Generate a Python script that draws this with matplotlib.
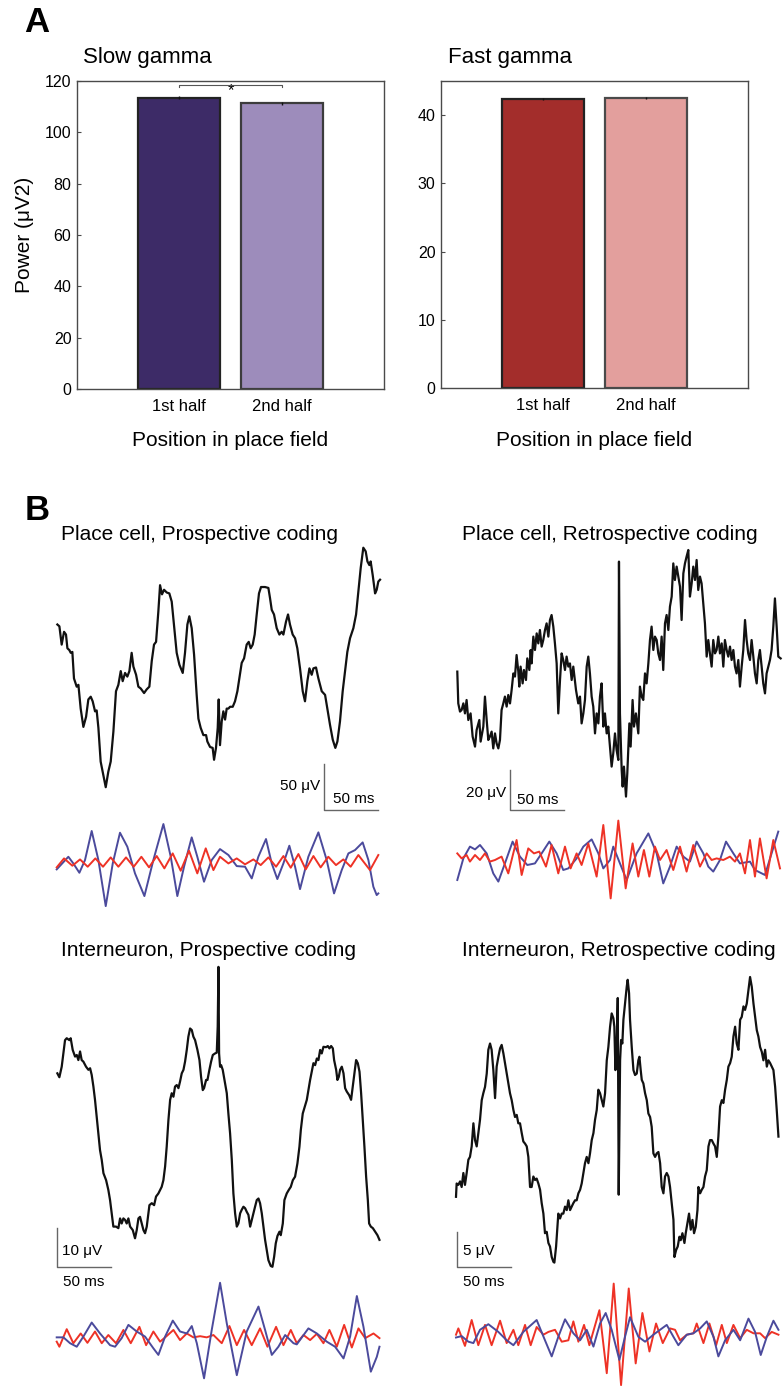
import numpy as np
import matplotlib
matplotlib.use("Agg")
import matplotlib.pyplot as plt

plt.rcParams['font.family'] = ['Liberation Sans', 'DejaVu Sans']

# ---------------- Panel A data ----------------
categories = ['1st half', '2nd half']
slow_power = [113.5, 111.3]
slow_err = [0.6, 0.5]
fast_power = [42.4, 42.45]
fast_err = [0.15, 0.15]
slow_colors = ['#3d2b67', '#9d8cbb']
fast_colors = ['#a32d2b', '#e39f9d']
slow_ticks = [0, 20, 40, 60, 80, 100, 120]
fast_ticks = [0, 10, 20, 30, 40]

# ---------------- Panel B data (time in ms, voltage in uV) ----------------
b1_raw = [(0.6,192),(2.5,190),(4.6,170),(6.8,184),(8.6,181),(9.9,166),(11.7,164),(13.0,161),(14.5,162),(16.0,133),(18.5,124),(20.1,126),(22.2,100),(24.7,80),(27.2,91),(29.3,110),(31.5,113),(33.3,108),(35.5,97),(37.0,98),(38.6,79),(40.7,42),(43.2,27),(45.4,14),(47.8,31),(50.0,42),(52.5,75),(54.9,119),(57.1,126),(59.3,141),(61.1,130),(63.3,139),(65.4,135),(67.3,141),(69.4,161),(71.0,146),(73.5,137),(75.6,124),(77.8,122),(80.9,117),(83.3,121),(85.8,124),(88.0,152),(90.1,170),(92.0,173),(94.1,206),(95.7,235),(97.5,225),(99.4,230),(101.9,227),(104.3,226),(106.5,217),(108.0,199),(109.6,181),(111.1,161),(113.6,148),(116.7,139),(118.8,161),(121.0,192),(122.8,201),(125.0,188),(127.2,159),(129.6,115),(131.2,89),(133.3,79),(135.8,71),(138.3,71),(139.5,64),(142.0,58),(144.4,57),(145.7,44),(147.5,57),(149.1,79),(150.0,110),(151.2,60),(152.8,86),(154.3,97),(155.9,88),(157.4,100),(159.0,100),(160.5,102),(163.0,102),(165.1,108),(167.3,119),(169.1,133),(171.3,150),(173.5,155),(175.9,170),(177.8,173),(179.6,166),(181.5,170),(183.3,181),(185.2,203),(187.3,226),(189.2,233),(192.9,233),(196.0,232),(197.5,221),(199.1,208),(201.2,203),(203.7,188),(206.2,181),(208.3,184),(209.9,181),(212.3,195),(214.2,203),(216.0,192),(218.5,181),(220.7,177),(222.8,166),(225.3,144),(227.8,119),(229.9,108),(232.1,130),(234.0,144),(236.1,137),(237.7,144),(240.1,145),(242.3,133),(245.4,119),(248.5,115),(250.6,100),(253.1,82),(255.6,66),(258.0,57),(259.9,64),(262.3,86),(264.8,119),(267.0,141),(269.1,162),(271.6,177),(274.7,188),(277.2,203),(279.3,228),(281.5,254),(283.9,276),(286.1,272),(287.7,261),(289.5,257),(290.7,261),(292.6,246),(294.8,226),(296.3,230),(297.8,239),(299.4,241)]
b1_slow = [(0,-75.9),(10.8,-62.1),(15.4,-69.4),(21.0,-79.6),(26.2,-65.7),(32.4,-33.9),(38.6,-65.7),(45.4,-116.1),(51.9,-69.4),(58.6,-35.8),(65.4,-51.1),(72.5,-80.3),(81.2,-105.1),(89.5,-65.7),(98.8,-26.3),(105.6,-62.1),(111.7,-105.1),(117.9,-73.0),(125.0,-40.9),(130.2,-62.1),(136.4,-89.4),(143.5,-65.7),(151.2,-53.7),(159.0,-60.2),(166.7,-72.3),(174.4,-73.0),(180.6,-85.8),(186.7,-62.1),(193.8,-42.7),(199.1,-69.4),(204.3,-86.5),(209.9,-69.4),(215.4,-50.0),(220.7,-73.0),(225.3,-97.5),(233.0,-62.1),(242.3,-35.4),(250.0,-65.7),(256.8,-102.2),(263.9,-76.7),(270.1,-58.4),(276.2,-54.8),(283.3,-46.4),(288.6,-65.7),(293.2,-94.9),(296.3,-104.0),(297.8,-102.2)]
b1_fast = [(0,-73.7),(6.8,-63.9),(14.5,-71.9),(21.6,-65.0),(28.7,-73.0),(35.8,-63.9),(42.9,-73.0),(50.0,-62.8),(57.1,-73.0),(64.2,-62.8),(71.3,-73.0),(78.4,-62.1),(85.5,-73.7),(92.6,-61.3),(99.7,-74.8),(107.4,-58.4),(114.8,-77.4),(122.5,-55.5),(130.2,-80.3),(138.0,-52.9),(145.1,-76.7),(151.2,-62.1),(159.0,-69.4),(166.7,-63.9),(174.4,-70.4),(182.1,-65.0),(188.9,-71.2),(196.0,-62.8),(203.1,-73.0),(209.9,-61.3),(216.7,-74.1),(223.8,-59.1),(230.6,-75.9),(237.7,-61.3),(244.4,-73.7),(251.5,-62.1),(258.6,-71.2),(265.4,-65.0),(272.2,-73.0),(279.3,-60.2),(290.1,-76.7),(297.8,-60.2)]

b2_raw = [(0,64.2),(0.9,48.3),(2.5,44.2),(4.0,45),(5.6,48.3),(7.1,43.3),(8.6,50),(10.2,40),(12.3,43.3),(14.2,31.7),(16.4,26.7),(17.9,35),(20.4,40),(21.6,29.2),(24.1,36.7),(25.6,51.7),(27.2,40),(28.7,30),(30.2,31.7),(31.8,34.2),(33.3,25.8),(34.9,33.3),(36.4,28.3),(38.0,25.8),(39.5,30),(41.0,45),(42.6,48.3),(44.1,51.7),(45.7,46.7),(47.2,52.5),(48.8,48.3),(50.3,55),(51.9,63.3),(53.4,61.7),(54.9,72.5),(56.5,64.2),(57.4,56.7),(58.6,66.7),(60.5,58.3),(61.7,65),(63.6,60),(64.8,70.8),(66.7,65),(67.9,75),(68.8,68.3),(70.4,81.7),(71.9,75),(73.5,83.3),(75.0,78.3),(76.5,85),(78.1,76.7),(79.6,80),(81.2,85),(82.7,88.3),(84.3,81.7),(85.8,90),(87.3,92.5),(88.9,86.7),(90.4,78.3),(92.0,68.3),(93.5,43.3),(95.1,60),(96.6,73.3),(98.1,70),(99.7,65),(101.2,71.7),(102.8,66.7),(104.3,68.3),(105.9,60),(107.4,66.7),(109.9,55),(112.0,48.3),(113.6,51.7),(115.1,38.3),(116.7,43.3),(118.2,50),(119.8,66.7),(121.3,71.7),(122.8,63.3),(124.4,51.7),(125.9,46.7),(127.5,33.3),(129.0,43.3),(130.6,38.3),(132.1,51.7),(133.6,58.3),(135.2,36.7),(136.7,43.3),(138.3,33.3),(139.8,36.7),(141.4,26.7),(142.9,16.7),(144.4,23.3),(146.0,33.3),(147.5,25),(149.1,20),(149.7,119.2),(150.6,43.3),(152.2,15),(153.1,6.7),(154.3,16.7),(156.2,1.7),(157.4,13.3),(159.3,38.3),(160.5,26.7),(162.3,50),(163.6,36.7),(165.4,43.3),(167.6,33.3),(169.1,56.7),(170.7,51.7),(172.2,50),(173.8,63.3),(175.3,58.3),(176.9,68.3),(178.4,80),(179.9,86.7),(181.5,75),(183.0,81.7),(184.6,80),(186.1,73.3),(187.7,70),(189.2,81.7),(190.7,65),(192.3,88.3),(193.8,92.5),(195.4,85),(196.9,96.7),(198.5,101.7),(200.0,118.3),(201.5,110),(203.1,116.7),(204.6,111.7),(206.2,106.7),(207.7,90),(209.3,113.3),(210.8,118.3),(212.3,121.7),(213.9,125),(215.4,101.7),(217.0,108.3),(218.5,116.7),(220.1,110),(221.6,120),(223.1,105),(224.7,111.7),(226.2,108.3),(227.8,98.3),(229.3,88.3),(230.9,71.7),(232.4,80),(233.9,73.3),(235.5,66.7),(237.0,80),(238.6,73.3),(240.1,75),(241.7,81.7),(243.2,73.3),(244.8,78.3),(246.3,66.7),(247.8,80),(249.4,75),(250.9,71.7),(252.5,76.7),(254.0,70),(255.6,75),(257.1,66.7),(258.6,63.3),(260.2,70),(261.7,56.7),(263.3,66.7),(264.8,75),(266.4,90),(267.9,80),(269.4,73.3),(271.0,70),(272.5,80),(274.1,71.7),(275.6,63.3),(277.2,58.3),(278.7,70),(280.2,75),(281.8,66.7),(283.3,58.3),(284.9,53.3),(286.4,63.3),(288.0,66.7),(289.5,70),(291.0,75),(292.6,86.7),(294.1,100.8),(295.7,86.7),(297.2,71.7),(299.4,70.8)]
b2_slow = [(0,-40),(5.6,-29.2),(11.7,-23.3),(16.4,-24.7),(21.0,-22.5),(27.2,-26.7),(33.3,-36.7),(38.0,-40.8),(44.1,-31.7),(51.2,-20.8),(58.0,-28.3),(64.8,-32.5),(71.9,-31.7),(78.1,-26.7),(85.2,-20.8),(92.0,-26.7),(98.1,-35),(102.8,-34.2),(110.5,-29.2),(116.7,-23.3),(124.4,-19.7),(130.6,-26.7),(135.2,-34.2),(141.4,-30),(144.4,-23.3),(150.6,-31.7),(156.8,-40),(166.0,-26.7),(176.9,-16.7),(184.6,-26.7),(190.7,-41.7),(196.9,-33.3),(203.1,-23.3),(209.3,-28.3),(215.4,-30.8),(221.6,-20.8),(227.8,-26.7),(232.4,-33.3),(237.0,-35.8),(243.2,-30),(248.8,-20.8),(255.6,-26.7),(261.7,-31.7),(271.0,-30.8),(275.6,-35),(284.9,-37.5),(291.0,-26.7),(297.2,-15.8)]
b2_fast = [(0,-26.7),(4.0,-29.2),(8.6,-27.5),(11.7,-30.8),(16.4,-27.5),(21.0,-30),(25.6,-26.7),(30.2,-30.8),(34.9,-30),(41.0,-28.3),(47.2,-36.7),(54.9,-20),(59.6,-37.5),(65.7,-24.2),(71.0,-26.7),(75.9,-25.8),(82.1,-33.3),(87.3,-22.5),(93.5,-36.7),(99.7,-23.3),(104.9,-34.2),(110.5,-26.7),(115.1,-32.5),(121.3,-21.7),(129.0,-38.3),(135.2,-12.5),(142.0,-49.2),(149.1,-10.3),(155.9,-44.2),(162.3,-21.7),(167.6,-38.3),(172.8,-25),(177.8,-38.3),(183.0,-23.3),(187.7,-30),(193.8,-25),(200.0,-35),(206.2,-23.3),(212.3,-35.8),(218.5,-22.5),(224.7,-33.3),(230.9,-26.7),(235.5,-30),(240.1,-29.2),(246.3,-30),(252.5,-28.3),(257.1,-30.8),(261.7,-26.7),(266.4,-36.7),(271.0,-20),(275.6,-38.3),(280.2,-19.2),(286.4,-39.2),(292.6,-20),(298.8,-34.2)]

b3_raw = [(0.6,45.3),(2.5,44.3),(4.7,47.0),(6.3,50.4),(7.8,53.8),(9.4,54.3),(11.9,53.8),(13.1,54.3),(15.0,51.3),(17.2,49.6),(18.8,50.0),(20.3,48.7),(21.9,50.9),(23.4,48.7),(25.0,48.3),(27.5,47.0),(29.7,46.2),(31.3,46.6),(32.8,44.9),(34.4,41.9),(35.9,38.5),(37.5,34.2),(39.1,29.9),(40.6,25.6),(42.2,23.1),(43.8,19.7),(46.3,17.9),(48.4,15.4),(50.0,12.8),(51.6,9.4),(53.1,6.0),(55.6,6.0),(57.8,5.6),(59.4,8.1),(60.9,6.8),(62.5,8.1),(64.1,7.7),(65.6,6.8),(67.2,8.1),(68.8,6.0),(71.3,5.1),(73.4,3.0),(75.0,5.1),(76.6,8.1),(78.1,8.5),(79.7,6.8),(81.3,5.1),(82.8,4.3),(84.4,6.0),(86.9,11.5),(89.1,12.0),(91.3,11.5),(93.1,13.7),(95.3,14.5),(96.9,15.4),(98.4,16.2),(100.0,17.9),(101.6,21.4),(103.1,26.5),(104.7,33.3),(106.3,38.5),(107.8,40.2),(109.4,39.3),(110.9,41.9),(112.5,42.3),(114.1,41.5),(115.6,43.2),(117.2,45.3),(118.8,46.2),(120.3,48.3),(121.9,51.3),(123.4,54.7),(125.0,56.8),(126.6,56.4),(128.1,54.7),(129.7,53.8),(131.9,51.3),(133.8,48.7),(135.3,44.4),(136.9,41.0),(138.1,41.5),(140.0,43.6),(141.3,43.6),(143.1,46.2),(144.7,48.3),(146.3,50.0),(148.4,50.4),(150.0,50.6),(150.9,57.3),(151.6,72.6),(152.2,50.4),(153.1,47.0),(154.1,47.4),(155.6,46.2),(157.8,42.7),(159.4,40.2),(160.9,35.0),(162.5,29.9),(164.1,23.1),(165.6,14.5),(167.2,9.4),(168.8,6.0),(170.3,6.8),(171.9,9.4),(173.4,10.3),(175.0,11.1),(176.6,10.7),(178.1,9.8),(179.7,9.0),(181.3,6.0),(182.8,7.7),(184.4,9.4),(185.9,11.1),(187.5,12.8),(189.1,13.2),(190.6,12.0),(192.2,9.4),(193.8,6.0),(195.3,2.6),(196.9,0),(198.4,-2.6),(200.6,-4.1),(202.2,-4.3),(203.8,-1.7),(205.3,1.7),(206.9,3.6),(208.8,4.7),(210.0,3.8),(211.9,6.8),(213.4,12.8),(215.6,14.5),(217.5,15.4),(219.4,16.2),(221.3,17.9),(223.4,18.8),(225.6,22.2),(227.5,26.5),(228.8,30.8),(230.6,35.0),(232.5,36.8),(234.4,38.5),(235.9,41.0),(237.5,43.6),(239.4,46.2),(240.6,47.9),(242.2,47.4),(243.8,49.1),(245.3,48.7),(246.9,51.3),(248.4,50.4),(250.0,52.1),(252.5,52.0),(254.1,52.3),(255.6,51.7),(257.2,52.3),(258.8,51.7),(260.0,48.7),(261.9,46.2),(263.1,43.6),(264.4,44.4),(265.6,46.2),(267.2,47.0),(268.8,45.3),(270.3,41.5),(271.9,40.6),(274.1,39.7),(275.9,38.5),(277.5,41.9),(279.1,45.3),(280.6,48.7),(282.2,47.9),(283.8,45.7),(285.3,40.2),(286.9,33.3),(288.4,26.5),(290.0,18.8),(291.6,12.8),(292.8,6.8),(294.4,6.0),(296.3,5.6),(298.4,4.7),(300.6,3.8),(302.5,2.6)]
b3_slow = [(0,-22.4),(6.3,-22.4),(12.5,-23.9),(18.8,-24.8),(25.0,-22.2),(32.8,-18.6),(40.6,-21.4),(50.0,-24.4),(54.7,-24.8),(60.9,-22.6),(67.2,-19.2),(75.0,-20.9),(82.8,-22.2),(90.6,-25.2),(95.3,-26.9),(101.6,-22.2),(108.8,-18.1),(115.6,-20.9),(121.9,-21.4),(126.6,-19.5),(131.3,-23.9),(138.1,-32.9),(145.3,-20.5),(153.1,-8.4),(159.4,-18.8),(168.8,-32.1),(178.1,-20.9),(189.1,-14.5),(195.3,-20.5),(201.6,-26.9),(207.8,-24.8),(214.1,-21.8),(221.9,-23.9),(225.0,-24.2),(235.9,-20.1),(243.8,-21.4),(253.1,-23.5),(260.9,-24.8),(268.8,-27.8),(275.0,-22.2),(281.3,-11.8),(287.5,-19.7),(294.4,-31.2),(300.0,-27.4),(302.5,-24.8)]
b3_fast = [(0,-23.5),(2.5,-24.8),(9.4,-20.3),(15.6,-23.9),(22.5,-21.4),(28.8,-23.8),(35.9,-20.9),(42.2,-23.9),(48.4,-21.8),(55.6,-23.9),(62.5,-20.5),(69.4,-23.9),(77.5,-19.7),(83.8,-24.4),(90.6,-20.9),(96.9,-23.5),(102.5,-22.2),(109.4,-20.5),(115.6,-23.1),(121.9,-21.4),(128.1,-22.4),(134.4,-22.1),(140.6,-22.4),(146.9,-21.8),(154.7,-23.9),(161.9,-19.5),(168.8,-24.4),(175.6,-20.5),(182.8,-24.4),(190.6,-20.1),(197.5,-24.8),(205.6,-19.7),(212.5,-24.4),(219.4,-20.5),(225.0,-23.9),(231.3,-21.8),(237.5,-23.1),(243.8,-21.5),(250.0,-23.9),(255.6,-20.5),(262.5,-24.8),(269.4,-19.2),(276.6,-25.0),(282.8,-20.1),(289.1,-22.6),(296.9,-21.4),(302.5,-22.6)]

b4_raw = [(0,7.6),(0.6,9.5),(2.2,9.3),(3.8,9.8),(5.3,9.0),(6.9,11.0),(8.4,9.3),(10.0,11.0),(11.6,12.9),(13.1,13.3),(14.7,14.8),(16.3,18.1),(17.8,15.7),(19.4,14.8),(20.9,16.7),(22.5,18.6),(24.1,21.4),(25.6,22.4),(27.2,23.3),(28.8,25.2),(30.3,28.6),(31.9,29.5),(33.4,28.6),(35.0,25.7),(36.6,21.7),(38.1,26.2),(39.7,27.6),(41.3,28.8),(42.8,29.3),(44.4,28.1),(45.9,26.7),(47.5,25.2),(49.1,23.8),(50.6,22.4),(52.2,21.4),(53.8,20.0),(55.3,19.0),(56.9,19.3),(58.4,18.1),(60.0,18.1),(61.6,16.7),(63.1,15.5),(64.7,15.2),(66.3,14.8),(67.8,13.3),(69.4,9.0),(70.9,9.0),(72.5,10.5),(74.1,10.0),(75.6,10.2),(77.2,9.5),(78.8,8.6),(80.3,6.7),(81.9,5.2),(83.4,2.4),(85.0,2.6),(86.6,1.0),(88.1,0.5),(89.7,-1.0),(91.3,-1.7),(92.2,-1.8),(93.8,0.5),(95.0,3.3),(95.9,5.2),(97.5,4.5),(99.1,5.2),(100.6,5.2),(102.2,6.2),(103.8,5.7),(105.3,7.1),(106.9,5.7),(108.4,6.2),(110.0,6.7),(111.6,7.1),(113.1,7.1),(114.7,8.1),(116.3,8.6),(117.8,9.5),(119.4,11.0),(120.9,12.4),(122.5,13.3),(124.1,12.4),(125.6,13.8),(127.2,15.7),(128.8,16.7),(130.3,18.6),(131.9,20.0),(133.4,22.9),(135.0,22.4),(136.6,21.4),(138.1,20.5),(139.7,22.4),(141.3,27.1),(142.8,29.0),(144.4,31.9),(145.9,33.8),(147.5,33.1),(148.4,31.9),(149.4,25.7),(150.6,29.5),(151.6,36.0),(152.5,7.9),(153.8,27.1),(154.7,30.0),(155.9,29.5),(156.9,32.9),(158.4,35.2),(160.0,37.6),(160.9,38.6),(162.2,36.7),(163.1,32.9),(164.7,29.0),(166.3,25.7),(167.8,25.0),(169.4,25.2),(170.9,27.1),(171.9,27.6),(173.1,25.7),(174.1,24.3),(175.6,23.8),(177.2,22.4),(178.8,21.4),(180.3,19.5),(181.9,19.0),(183.4,17.6),(185.0,13.8),(186.6,13.3),(188.1,13.8),(189.7,14.0),(191.3,12.4),(192.8,9.0),(194.4,8.1),(195.9,10.5),(197.5,11.0),(199.1,10.5),(200.6,9.0),(202.2,6.7),(203.8,4.3),(204.7,-1.0),(206.3,0),(207.8,0.5),(209.4,1.9),(210.6,1.4),(212.2,2.4),(214.1,1.0),(215.3,2.4),(216.9,3.8),(218.4,5.2),(220.0,2.9),(221.6,4.3),(223.1,2.4),(224.7,3.3),(226.3,5.7),(227.2,9.0),(228.8,8.1),(230.3,8.6),(231.9,9.0),(233.4,10.5),(235.0,11.4),(236.6,14.8),(238.1,15.7),(239.7,15.7),(241.3,15.2),(242.8,14.8),(244.4,13.3),(245.9,16.2),(247.5,20.5),(249.1,21.4),(250.6,21.0),(252.2,22.9),(253.8,24.3),(255.3,26.2),(256.9,26.7),(258.4,27.6),(260.0,30.5),(261.6,31.9),(263.1,29.5),(264.7,28.6),(266.3,32.9),(267.8,33.3),(269.4,34.8),(270.9,34.3),(272.5,35.2),(274.1,37.1),(275.6,39.0),(277.2,37.6),(278.8,35.2),(280.3,33.3),(281.9,31.4),(283.4,30.5),(285.0,29.0),(286.6,28.3),(288.1,27.1),(289.7,28.6),(291.3,26.2),(292.8,27.1),(294.4,26.7),(295.9,26.2),(297.5,25.7),(299.1,23.3),(300.6,20.0),(302.2,16.2)]
b4_slow = [(0,-12.5),(5.3,-12.3),(11.6,-13.1),(16.3,-13.3),(22.5,-11.4),(30.3,-10.6),(39.7,-11.7),(47.5,-12.9),(53.8,-13.6),(63.1,-11.7),(75.6,-10.0),(83.4,-12.9),(89.7,-15.2),(95.9,-12.4),(102.2,-9.9),(110.0,-11.9),(116.3,-12.9),(122.5,-11.4),(128.8,-13.8),(135.0,-10.5),(140.3,-9.0),(145.9,-11.4),(153.1,-15.7),(158.4,-12.4),(163.1,-9.6),(170.9,-12.4),(177.2,-13.1),(185.0,-12.1),(197.5,-10.7),(203.8,-12.4),(208.4,-13.6),(216.3,-12.1),(222.5,-11.9),(228.8,-11.2),(235.0,-10.2),(241.3,-12.4),(245.9,-15.2),(252.2,-12.9),(260.0,-11.4),(266.3,-12.9),(274.1,-9.8),(280.3,-11.7),(285.6,-15.0),(291.3,-12.4),(297.5,-10.1),(302.2,-11.4)]
b4_fast = [(0,-12.1),(2.2,-11.2),(8.4,-13.7),(14.7,-10.0),(20.9,-13.6),(27.2,-10.7),(33.4,-13.6),(41.3,-10.1),(47.5,-13.3),(53.8,-11.4),(58.4,-13.6),(64.7,-10.7),(70.0,-13.6),(75.6,-11.0),(81.9,-12.1),(86.6,-11.7),(92.8,-11.4),(99.1,-13.1),(105.3,-12.9),(110.0,-10.2),(114.7,-13.1),(120.0,-10.7),(125.0,-13.6),(134.4,-8.6),(141.3,-17.6),(147.8,-4.8),(154.7,-19.3),(161.9,-5.5),(168.4,-16.2),(174.7,-9.0),(181.3,-14.5),(187.5,-10.5),(193.8,-13.3),(200.6,-11.2),(205.3,-11.4),(210.0,-12.9),(216.3,-12.1),(222.5,-11.9),(225.6,-10.5),(231.9,-13.3),(237.5,-10.5),(243.8,-13.6),(249.1,-10.7),(253.8,-13.3),(260.0,-10.7),(266.3,-12.6),(272.5,-11.4),(278.8,-11.9),(285.0,-11.9),(289.7,-12.6),(295.9,-11.7),(302.2,-12.1)]

panel_titles = ['Place cell, Prospective coding', 'Place cell, Retrospective coding',
                'Interneuron, Prospective coding', 'Interneuron, Retrospective coding']
scale_uv = [50, 20, 10, 5]
scale_ms = 50

# ---------------- figure ----------------
W, H = 783, 1386
fig = plt.figure(figsize=(W / 100, H / 100), dpi=100)
fig.patch.set_facecolor('white')


def px_axes(l, t, r, b):
    return fig.add_axes([l / W, 1 - b / H, (r - l) / W, (b - t) / H])


def ftext(x, y, s, **kw):
    fig.text(x / W, 1 - y / H, s, **kw)


SPINE = '#4a4a4a'


def bar_panel(box, vals, errs, colors, edges, ymax, ticks, title, title_x):
    ax = px_axes(*box)
    x = np.arange(1, len(vals) + 1)
    ax.bar(x, vals, width=0.8, color=colors, edgecolor=edges, linewidth=1.6, zorder=2)
    ax.errorbar(x, vals, yerr=errs, fmt='none', ecolor='#111111', elinewidth=1.0,
                capsize=0, zorder=3)
    ax.set_xlim(0, 3)
    ax.set_ylim(0, ymax)
    ax.set_yticks(ticks)
    ax.set_xticks(x)
    ax.set_xticklabels(categories)
    ax.tick_params(axis='y', direction='in', length=3, width=0.8, color=SPINE,
                   labelsize=11.5, pad=4)
    ax.tick_params(axis='x', length=0, labelsize=12, pad=7)
    for s in ax.spines.values():
        s.set_color(SPINE)
        s.set_linewidth(1.0)
    ftext(title_x, 57, title, fontsize=16, ha='left', va='center')
    cx = (box[0] + box[2]) / 2
    ftext(cx, 441, 'Position in place field', fontsize=15, ha='center', va='center')
    return ax


axL = bar_panel((77, 81, 384, 389), slow_power, slow_err, slow_colors,
                ['#222222', '#3c3c3c'], 120, slow_ticks, 'Slow gamma', 83)
# significance bracket
axL.plot([1, 1, 2, 2], [117.6, 118.4, 118.4, 117.6], color='#555555', lw=0.8, zorder=4)
axL.text(1.5, 116.3, '*', ha='center', va='center', fontsize=12)
ftext(25, 235, 'Power (\u03bcV2)', rotation=90, fontsize=15, ha='center', va='center')

axR = bar_panel((441, 81, 748, 388), fast_power, fast_err, fast_colors,
                ['#222222', '#4a4a4a'], 45, fast_ticks, 'Fast gamma', 448)

ftext(37, 22, 'A', fontsize=25, fontweight='bold', ha='center', va='center')
ftext(37, 510, 'B', fontsize=25, fontweight='bold', ha='center', va='center')

# ---------------- Panel B ----------------
BLACK = '#111111'
BLUE = '#4b4a9c'
RED = '#ee3226'
BAR = '#666666'


def trace_axes(box, x0, ppm, y0, ppu):
    l, t, r, b = box
    ax = px_axes(l, t, r, b)
    ax.set_xlim((l - x0) / ppm, (r - x0) / ppm)
    ax.set_ylim((y0 - b) / ppu, (y0 - t) / ppu)
    ax.axis('off')
    return ax


def draw(ax, raw, slow, fast, red_on_top=True):
    t, v = zip(*raw)
    ax.plot(t, v, color=BLACK, lw=1.6, solid_joinstyle='round', clip_on=False)
    ts, vs = zip(*slow)
    tf, vf = zip(*fast)
    if red_on_top:
        ax.plot(ts, vs, color=BLUE, lw=1.4, solid_joinstyle='round', clip_on=False)
        ax.plot(tf, vf, color=RED, lw=1.4, solid_joinstyle='round', clip_on=False)
    else:
        ax.plot(tf, vf, color=RED, lw=1.4, solid_joinstyle='round', clip_on=False)
        ax.plot(ts, vs, color=BLUE, lw=1.4, solid_joinstyle='round', clip_on=False)


def scalebar(ax, t0, v0, uv, uv_lab, ms_lab):
    ax.plot([t0, t0, t0 + scale_ms], [v0 + uv, v0, v0], color=BAR, lw=1.0, clip_on=False)
    ax.text(*uv_lab[0], f'{uv} \u03bcV', fontsize=11, ha=uv_lab[1], va='center')
    ax.text(*ms_lab, f'{scale_ms} ms', fontsize=11, ha='left', va='center')


TFS = 15

# B1
ax1 = trace_axes((40, 520, 400, 930), 56.7, 1.08, 800, 1 / 1.094)
draw(ax1, b1_raw, b1_slow, b1_fast)
scalebar(ax1, 247.8, -11, scale_uv[0], ((243.5, 15), 'right'), (255.5, 1))
ftext(61, 535, panel_titles[0], fontsize=TFS, ha='left', va='center')

# B2
ax2 = trace_axes((440, 520, 783, 930), 457.3, 1.08, 800, 2.0)
draw(ax2, b2_raw, b2_slow, b2_fast)
scalebar(ax2, 49.1, -5, scale_uv[1], ((45.5, 3.3), 'right'), (55.6, 0))
ftext(462, 535, panel_titles[1], fontsize=TFS, ha='left', va='center')

# B3
ax3 = trace_axes((40, 940, 400, 1386), 56.7, 1.067, 1250, 3.9)
draw(ax3, b3_raw, b3_slow, b3_fast, red_on_top=False)
scalebar(ax3, 0.6, -4.3, scale_uv[2], ((4.7, -0.2), 'left'), (6.2, -8.1))
ftext(61, 951, panel_titles[2], fontsize=TFS, ha='left', va='center')

# B4
ax4 = trace_axes((440, 940, 783, 1386), 456, 1.067, 1250, 7.0)
draw(ax4, b4_raw, b4_slow, b4_fast, red_on_top=False)
scalebar(ax4, 1.2, -2.4, scale_uv[3], ((6.3, -0.1), 'left'), (6.3, -4.5))
ftext(462, 951, panel_titles[3], fontsize=TFS, ha='left', va='center')

fig.savefig('out.png', dpi=100, facecolor='white')
